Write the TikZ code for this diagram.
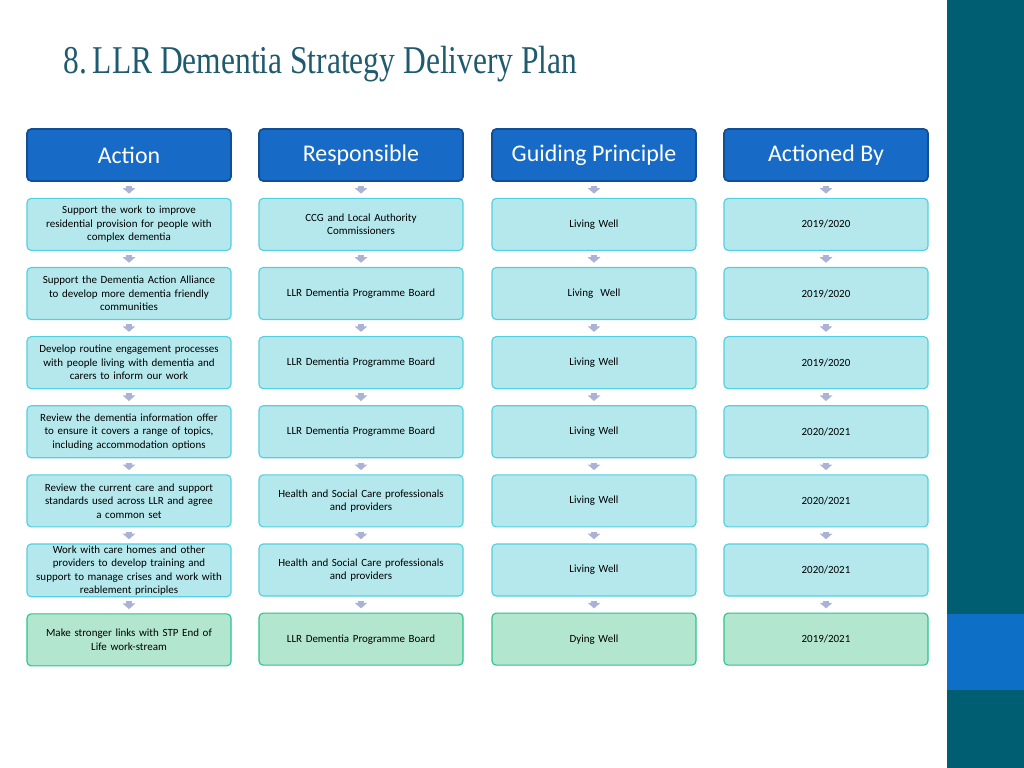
\documentclass[tikz,border=0pt]{standalone}
\usepackage{fontspec}
\setmainfont{Carlito}
\newfontfamily\titlefont{Liberation Serif}
\usetikzlibrary{positioning,arrows.meta}
\hyphenpenalty=10000
\exhyphenpenalty=10000
\definecolor{headfill}{RGB}{23,107,198}
\definecolor{headline}{RGB}{16,78,150}
\definecolor{cellfill}{RGB}{180,232,236}
\definecolor{cellline}{RGB}{80,208,225}
\definecolor{lastfill}{RGB}{179,230,207}
\definecolor{lastline}{RGB}{43,196,143}
\definecolor{arrowgrey}{RGB}{170,178,214}
\definecolor{barteal}{RGB}{0,94,115}
\definecolor{barblue}{RGB}{14,111,199}
\definecolor{titleteal}{RGB}{31,90,110}
\tikzset{
    head/.style={draw=headline, fill=headfill, line width=1.2pt, rounded corners=3pt,
        minimum width=5.1cm, minimum height=1.3cm, text=white, font=\fontsize{17}{20}\selectfont},
    cell/.style={draw=cellline, fill=cellfill, line width=0.8pt, rounded corners=3pt,
        minimum width=5.1cm, minimum height=1.3cm, text width=5.05cm, inner xsep=0.5pt, inner ysep=1pt,
        align=center, font=\fontsize{7.8}{9.6}\selectfont},
    lastcell/.style={cell, draw=lastline, fill=lastfill},
    link/.style={arrowgrey, line width=4pt, -{Triangle[length=4pt,width=9pt]}, shorten <=3pt, shorten >=3pt}
}
\begin{document}
\begin{tikzpicture}[node distance=0.4cm]
        \useasboundingbox (0,0) rectangle (25.6,-19.2);
        \fill[barteal] (23.675,0) rectangle (25.6,-19.2);
        \fill[barblue] (23.675,-15.35) rectangle (25.6,-17.25);
        \node[anchor=west, text=titleteal, font=\titlefont\fontsize{28}{30}\selectfont, xscale=0.8, transform shape] at (1.5,-1.6) {8.\,LLR Dementia Strategy Delivery Plan};

        % headers
        \node[head] (hA) at (3.225,-3.875) {Action};
        \node[head] (hR) at (9.025,-3.875) {Responsible};
        \node[head] (hG) at (14.85,-3.875) {Guiding Principle};
        \node[head] (hB) at (20.65,-3.875) {Actioned By};

        % action column
        \node[cell, below=of hA] (a1) {Support the work to improve\\residential provision for people with\\complex dementia};
        \node[cell, below=of a1] (a2) {Support the Dementia Action Alliance\\to develop more dementia friendly\\communities};
        \node[cell, below=of a2] (a3) {Develop routine engagement processes\\with people living with dementia and\\carers to inform our work};
        \node[cell, below=of a3] (a4) {Review the dementia information offer\\to ensure it covers a range of topics,\\including accommodation options};
        \node[cell, below=of a4] (a5) {Review the current care and support\\standards used across LLR and agree\\a common set};
        \node[cell, below=of a5] (a6) {Work with care homes and other\\providers to develop training and\\support to manage crises and work with\\reablement principles};
        \node[lastcell, below=of a6] (a7) {Make stronger links with STP End of\\Life work-stream};

        % responsible column
        \node[cell, below=of hR] (r1) {CCG and Local Authority\\Commissioners};
        \node[cell, below=of r1] (r2) {LLR Dementia Programme Board};
        \node[cell, below=of r2] (r3) {LLR Dementia Programme Board};
        \node[cell, below=of r3] (r4) {LLR Dementia Programme Board};
        \node[cell, below=of r4] (r5) {Health and Social Care professionals\\and providers};
        \node[cell, below=of r5] (r6) {Health and Social Care professionals\\and providers};
        \node[lastcell, below=of r6] (r7) {LLR Dementia Programme Board};

        % guiding principle column
        \node[cell, below=of hG] (g1) {Living Well};
        \node[cell, below=of g1] (g2) {Living~ Well};
        \node[cell, below=of g2] (g3) {Living Well};
        \node[cell, below=of g3] (g4) {Living Well};
        \node[cell, below=of g4] (g5) {Living Well};
        \node[cell, below=of g5] (g6) {Living Well};
        \node[lastcell, below=of g6] (g7) {Dying Well};

        % actioned by column
        \node[cell, below=of hB] (b1) {2019/2020};
        \node[cell, below=of b1] (b2) {2019/2020};
        \node[cell, below=of b2] (b3) {2019/2020};
        \node[cell, below=of b3] (b4) {2020/2021};
        \node[cell, below=of b4] (b5) {2020/2021};
        \node[cell, below=of b5] (b6) {2020/2021};
        \node[lastcell, below=of b6] (b7) {2019/2021};

        \foreach \c/\h in {a/hA, r/hR, g/hG, b/hB} {
            \draw[link] (\h) -- (\c1);
            \foreach \i [evaluate=\i as \j using int(\i+1)] in {1,...,6}
                \draw[link] (\c\i) -- (\c\j);
        }
    \end{tikzpicture}
\end{document}
